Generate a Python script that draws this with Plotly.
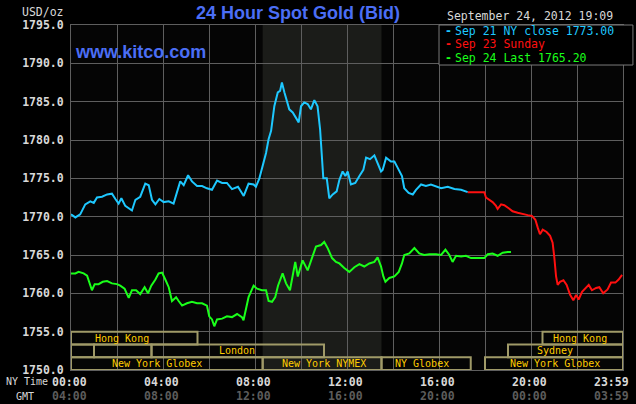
import plotly.graph_objects as go

# ---------------- data ----------------
series_names = ["Sep 21 NY close 1773.00", "Sep 23 Sunday", "Sep 24 Last 1765.20"]

cyan_h = [0.00, 0.19, 0.40, 0.62, 0.84, 0.99, 1.13, 1.35, 1.57, 1.78, 1.93, 2.07, 2.19, 2.36, 2.65, 2.80,
          3.01, 3.23, 3.38, 3.52, 3.67, 3.84, 4.03, 4.25, 4.46, 4.61, 4.75, 4.90, 5.09, 5.26, 5.48, 5.70,
          5.91, 6.13, 6.35, 6.57, 6.78, 7.00, 7.26, 7.51, 7.72, 7.94, 8.04, 8.19, 8.33, 8.48, 8.59, 8.70,
          8.84, 8.99, 9.09, 9.17, 9.28, 9.38, 9.49, 9.64, 9.78, 9.90, 10.00, 10.14, 10.29, 10.43, 10.58,
          10.72, 10.83, 10.91, 10.97, 11.12, 11.23, 11.38, 11.55, 11.67, 11.81, 11.93, 12.03, 12.17, 12.36,
          12.54, 12.71, 12.83, 13.00, 13.19, 13.33, 13.48, 13.55, 13.70, 13.91, 14.06, 14.20, 14.39, 14.49,
          14.68, 14.86, 15.00, 15.22, 15.43, 15.65, 15.87, 16.09, 16.38, 16.67, 16.96, 17.25]
cyan_p = [1770.3, 1769.9, 1770.3, 1771.6, 1772.0, 1771.8, 1772.5, 1772.6, 1772.9, 1773.0, 1772.3, 1771.7,
          1772.4, 1771.4, 1770.8, 1772.2, 1772.6, 1774.3, 1774.1, 1772.2, 1771.6, 1772.3, 1771.9, 1772.0,
          1771.7, 1773.3, 1774.6, 1774.1, 1775.4, 1774.6, 1774.0, 1774.0, 1773.7, 1773.5, 1774.7, 1774.4,
          1774.4, 1773.6, 1773.9, 1772.7, 1774.3, 1774.2, 1773.9, 1775.0, 1776.6, 1778.3, 1780.1, 1781.2,
          1784.4, 1786.2, 1786.4, 1787.5, 1786.2, 1785.1, 1784.0, 1783.6, 1782.9, 1782.3, 1784.4, 1784.9,
          1784.7, 1784.0, 1785.2, 1784.4, 1781.4, 1777.9, 1775.0, 1775.0, 1772.4, 1772.9, 1773.3, 1774.8,
          1775.9, 1775.3, 1775.9, 1774.2, 1774.4, 1775.3, 1776.1, 1777.7, 1777.5, 1778.0, 1777.0, 1775.9,
          1776.1, 1777.7, 1777.2, 1777.2, 1776.4, 1775.3, 1773.7, 1773.1, 1772.9, 1773.5, 1774.2, 1774.0,
          1774.2, 1774.0, 1773.7, 1773.9, 1773.6, 1773.5, 1773.2]

red_h = [17.25, 17.97, 18.04, 18.19, 18.33, 18.48, 18.55, 18.70, 18.84, 19.03, 19.20, 19.42, 19.64, 19.86,
         20.04, 20.19, 20.29, 20.39, 20.51, 20.68, 20.83, 20.94, 21.01, 21.09, 21.16, 21.26, 21.41, 21.55,
         21.70, 21.84, 21.96, 22.07, 22.22, 22.36, 22.51, 22.65, 22.83, 22.97, 23.14, 23.33, 23.48, 23.67,
         23.81, 23.96]
red_p = [1773.2, 1773.2, 1772.5, 1772.2, 1771.9, 1771.4, 1771.0, 1771.6, 1771.5, 1771.1, 1770.7, 1770.5,
         1770.3, 1770.2, 1770.1, 1769.6, 1768.6, 1767.7, 1768.3, 1768.0, 1767.5, 1766.6, 1764.8, 1762.2,
         1761.1, 1761.5, 1761.7, 1761.1, 1759.8, 1759.1, 1759.8, 1759.2, 1760.2, 1760.7, 1761.1, 1760.4,
         1760.7, 1760.8, 1760.0, 1760.5, 1761.4, 1761.4, 1761.8, 1762.4]

green_h = [0.00, 0.19, 0.33, 0.55, 0.70, 0.80, 0.91, 1.03, 1.20, 1.38, 1.57, 1.78, 2.00, 2.14, 2.33, 2.51,
           2.65, 2.83, 3.01, 3.20, 3.35, 3.49, 3.67, 3.81, 3.96, 4.10, 4.25, 4.39, 4.57, 4.68, 4.83, 5.04,
           5.26, 5.48, 5.70, 5.91, 6.01, 6.13, 6.23, 6.35, 6.57, 6.78, 7.00, 7.22, 7.43, 7.50, 7.72, 7.94,
           8.09, 8.30, 8.48, 8.59, 8.74, 8.88, 9.00, 9.20, 9.35, 9.52, 9.64, 9.75, 9.86, 10.07, 10.29,
           10.51, 10.65, 10.87, 11.01, 11.16, 11.35, 11.52, 11.67, 11.88, 12.10, 12.32, 12.54, 12.75,
           12.97, 13.19, 13.33, 13.48, 13.58, 13.67, 13.84, 14.06, 14.25, 14.39, 14.49, 14.71, 14.93,
           15.14, 15.36, 15.58, 15.87, 16.09, 16.28, 16.45, 16.59, 16.74, 16.96, 17.17, 17.39, 17.75,
           17.97, 18.12, 18.33, 18.55, 18.77, 18.99, 19.13]
green_p = [1762.6, 1762.6, 1762.8, 1762.6, 1762.3, 1761.5, 1760.4, 1761.2, 1761.2, 1761.5, 1761.6, 1761.3,
           1761.2, 1761.0, 1760.6, 1759.4, 1760.4, 1760.4, 1759.9, 1760.8, 1760.0, 1761.0, 1761.8, 1762.6,
           1762.7, 1761.8, 1760.8, 1759.0, 1759.5, 1759.0, 1758.4, 1758.7, 1758.9, 1758.7, 1758.7, 1758.4,
           1757.0, 1756.6, 1755.7, 1756.6, 1756.7, 1757.0, 1756.9, 1757.3, 1756.9, 1756.5, 1759.5, 1761.0,
           1760.6, 1760.4, 1760.4, 1759.0, 1758.9, 1759.5, 1761.0, 1762.6, 1761.3, 1760.4, 1762.2, 1764.1,
           1762.2, 1764.3, 1763.0, 1764.8, 1766.1, 1766.3, 1766.7, 1765.9, 1764.6, 1764.1, 1763.9, 1763.3,
           1762.8, 1763.4, 1763.8, 1763.5, 1763.9, 1764.1, 1764.7, 1763.5, 1762.2, 1761.5, 1762.0, 1762.2,
           1762.8, 1763.9, 1765.0, 1765.2, 1765.9, 1765.2, 1765.0, 1765.1, 1765.1, 1765.0, 1765.7, 1765.0,
           1764.1, 1764.9, 1764.8, 1764.9, 1764.6, 1764.6, 1764.6, 1765.1, 1765.2, 1764.9, 1765.3, 1765.4,
           1765.4]

y_ticks = [1750, 1755, 1760, 1765, 1770, 1775, 1780, 1785, 1790, 1795]
tick_hours = [0, 4, 8, 12, 16, 20, 23.983]
ny_labels = ["00:00", "04:00", "08:00", "12:00", "16:00", "20:00", "23:59"]
gmt_labels = ["04:00", "08:00", "12:00", "16:00", "20:00", "00:00", "03:59"]

# trading sessions (NY time, hours)
session_names = ["Hong Kong", "", "", "London", "New York Globex", "New York NYMEX",
                 "NY Globex", "New York Globex", "Sydney", "Hong Kong"]
session_rows = [0, 1, 1, 1, 2, 2, 2, 2, 1, 0]
session_start = [0, 0, 1, 3.5, 0, 8.333, 13.5, 18, 19, 20.5]
session_end = [5.5, 1, 3.5, 11, 8.333, 13.5, 17.38, 24, 24, 24]
session_label_x = [0.95, None, None, 6.34, 1.71, 9.09, 14.0, 19.02, 20.16, 20.85]
nymex_hours = [8.333, 13.5]

# ---------------- style ----------------
MONO = "DejaVu Sans Mono"
GRID = "#5e5e5e"
LABEL = "#d8d8d8"
BOX = "#a09a68"
GOLD = "#ffcc00"
colors = ["#1ec8ff", "#ff1010", "#1aff1a"]
row_top = [1755, 1753.33, 1751.67]
row_bot = [1753.33, 1751.67, 1750]

fig = go.Figure()
for h, p, c in [(cyan_h, cyan_p, colors[0]), (red_h, red_p, colors[1]), (green_h, green_p, colors[2])]:
    fig.add_trace(go.Scatter(x=h, y=p, mode="lines", line=dict(color=c, width=2), showlegend=False,
                             hoverinfo="skip"))

shapes = [dict(type="rect", xref="x", yref="paper", x0=nymex_hours[0], x1=nymex_hours[1], y0=0, y1=1,
               fillcolor="#1b1c19", line=dict(width=0), layer="below")]
annotations = []
for name, r, s, e, lx in zip(session_names, session_rows, session_start, session_end, session_label_x):
    shapes.append(dict(type="rect", xref="x", yref="y", x0=s, x1=e, y0=row_bot[r], y1=row_top[r],
                       line=dict(color=BOX, width=2), fillcolor="rgba(0,0,0,0)", layer="above"))
    if name:
        annotations.append(dict(x=lx, y=(row_bot[r] + row_top[r]) / 2, xref="x", yref="y", text=name,
                                showarrow=False, xanchor="left", yanchor="middle",
                                font=dict(family=MONO, size=10, color=GOLD)))

# legend box
shapes.append(dict(type="rect", xref="paper", yref="paper", x0=0.6667, x1=1.018, y0=0.884, y1=1.0,
                   fillcolor="#000000", line=dict(color="#7a7a7a", width=1), layer="above"))
leg_px = [31.0, 44.4, 57.8]
for name, c, yp in zip(series_names, colors, leg_px):
    annotations.append(dict(x=(444 - 71) / 552, y=1 - (yp - 25) / 345, xref="paper", yref="paper",
                            text="<b>-</b><span style='font-size:5px'> </span>" + name, showarrow=False,
                            xanchor="left", yanchor="middle", borderpad=0,
                            font=dict(family=MONO, size=11.5, color=c)))

# titles / texts
annotations += [
    dict(x=(194 - 71) / 552, y=1 + (25 - 13.5) / 345, xref="paper", yref="paper",
         text="<b>24 Hour Spot Gold (Bid)</b>",
         showarrow=False, xanchor="left", yanchor="middle",
         font=dict(family="Liberation Sans", size=18, color="#4b6ef5")),
    dict(x=(72.5 - 71) / 552, y=1 - (52 - 25) / 345, xref="paper", yref="paper", text="<b>www.kitco.com</b>",
         showarrow=False, xanchor="left", yanchor="middle",
         font=dict(family="Liberation Sans", size=18, color="#4b6ef5")),
    dict(x=(66 - 71) / 552, y=1 + (25 - 11.7) / 345, xref="paper", yref="paper", text="USD/oz",
         showarrow=False, xanchor="right", yanchor="middle", font=dict(family=MONO, size=11.5, color=LABEL)),
    dict(x=(445 - 71) / 552, y=1 + (25 - 16) / 345, xref="paper", yref="paper",
         text="September 24, 2012 19:09", showarrow=False, xanchor="left", yanchor="middle",
         font=dict(family=MONO, size=11.5, color=LABEL)),
    dict(x=(50 - 71) / 552, y=-(381.7 - 370) / 345, xref="paper", yref="paper", text="NY Time",
         showarrow=False, xanchor="right", yanchor="middle", font=dict(family=MONO, size=10, color=LABEL)),
    dict(x=(24.5 - 71) / 552, y=-(396 - 370) / 345, xref="paper", yref="paper", text="GMT",
         showarrow=False, xanchor="center", yanchor="middle", font=dict(family=MONO, size=10, color=LABEL)),
]
xshifts = [-1.5, -1.5, -1.5, -1.5, -1.5, -1.5, -11]
for h, ny, gm, xs in zip(tick_hours, ny_labels, gmt_labels, xshifts):
    annotations.append(dict(x=h, y=-(381.7 - 370) / 345, xref="x", yref="paper", text="<b>" + ny + "</b>",
                            showarrow=False, xanchor="center", yanchor="middle", xshift=xs,
                            font=dict(family=MONO, size=11.5, color=LABEL)))
    annotations.append(dict(x=h, y=-(396 - 370) / 345, xref="x", yref="paper", text="<b>" + gm + "</b>",
                            showarrow=False, xanchor="center", yanchor="middle", xshift=xs,
                            font=dict(family=MONO, size=11.5, color="#5c5c5c")))

fig.update_layout(
    width=636, height=404,
    margin=dict(l=71, r=13, t=25, b=34, autoexpand=False),
    paper_bgcolor="#000000", plot_bgcolor="#050505",
    shapes=shapes, annotations=annotations, showlegend=False,
    xaxis=dict(range=[0, 24], dtick=2, tick0=0, showgrid=True, gridcolor=GRID, gridwidth=1,
               showticklabels=False, zeroline=False, showline=True, linecolor=GRID, mirror=True,
               fixedrange=True),
    yaxis=dict(range=[1750, 1795], tickvals=y_ticks, ticktext=["<b>%.1f</b>" % v for v in y_ticks],
               showgrid=True, gridcolor=GRID, gridwidth=1, zeroline=False, showline=True, linecolor=GRID,
               mirror=True, ticks="", ticklabelstandoff=4, automargin=False,
               tickfont=dict(family=MONO, size=11.5, color=LABEL), fixedrange=True),
)

fig.write_html("out.html", config={"displayModeBar": False},
               post_script="document.body.style.margin='0';document.body.style.background='#000';")
